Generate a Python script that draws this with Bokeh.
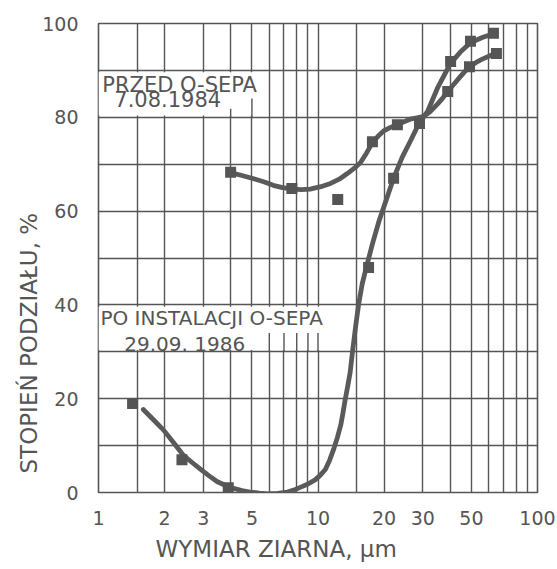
from bokeh.plotting import figure
from bokeh.models import FixedTicker, Range1d, Title
from bokeh.core.properties import value
from bokeh.embed import file_html
from bokeh.resources import INLINE

# axis ticks / grid
x_ticks = [1, 2, 3, 5, 10, 20, 30, 50, 100]
x_grid = [1, 1.5, 2, 3, 4, 5, 6, 7, 8, 9, 10, 15, 20, 30, 40, 50, 60, 70, 80, 90, 100]
y_ticks = [0, 20, 40, 60, 80, 100]
y_grid = [0, 10, 20, 30, 40, 50, 60, 70, 80, 90, 100]

# measured points
przed_x = [4.0, 7.6, 12.3, 17.7, 23.0, 29.0, 39.0, 49.0, 65.0]
przed_y = [68.3, 64.8, 62.5, 74.8, 78.4, 78.7, 85.5, 90.8, 93.6]
po_x = [1.43, 2.4, 3.9, 17.0, 22.1, 40.2, 49.5, 63.0]
po_y = [19.0, 7.0, 1.0, 48.0, 67.0, 91.9, 96.2, 97.9]

# hand-drawn curve traces
przed_curve_x = [4.0, 4.5, 5.1, 5.7, 6.25, 6.9, 7.65, 8.4, 9.2, 10.3, 11.4, 12.5,
                 13.6, 14.6, 15.6, 16.6, 17.7, 18.8, 19.9, 21.3, 22.8, 24.5,
                 26.3, 28.3, 30.3, 32.6, 35.0, 37.0, 39.0, 41.5, 44.0, 46.5,
                 49.0, 52.5, 56.0, 60.0, 64.4]
przed_curve_y = [68.2, 67.6, 66.9, 66.2, 65.5, 65.0, 64.7, 64.6, 64.7, 65.2, 65.9, 66.8,
                 68.0, 69.1, 70.3, 72.3, 74.6, 76.0, 77.1, 77.8, 78.4, 79.0,
                 79.6, 79.9, 80.2, 81.3, 82.8, 84.1, 85.5, 87.0, 88.4, 89.7,
                 90.8, 91.7, 92.4, 93.0, 93.6]
po_curve_x = [1.6, 1.78, 1.98, 2.2, 2.44, 2.67, 2.91, 3.18, 3.48, 3.8, 4.12, 4.5,
              4.9, 5.4, 5.9, 6.55, 7.25, 7.75, 8.3, 9.0, 9.7, 10.25, 10.8, 11.3,
              11.8, 12.25, 12.7, 13.0, 13.3, 13.65, 14.0, 14.2, 14.4, 14.85, 15.3,
              15.9, 16.6, 17.7, 19.0, 20.5, 22.1, 24.2, 26.4, 28.7, 31.6, 35.0,
              37.5, 40.0, 44.5, 49.5, 56.0, 63.0]
po_curve_y = [17.7, 15.5, 13.3, 10.6, 7.9, 6.4, 5.0, 3.6, 2.3, 1.5, 0.9, 0.4,
              0.1, -0.15, -0.3, -0.2, 0.1, 0.5, 1.1, 1.8, 2.7, 3.7, 4.9, 6.9,
              9.3, 11.7, 14.4, 17.0, 19.8, 22.6, 25.5, 28.0, 30.5, 35.5, 40.0,
              44.5, 48.0, 53.0, 58.0, 62.5, 67.0, 71.5, 75.0, 78.5, 81.3, 86.2,
              88.9, 91.4, 93.9, 95.9, 97.0, 97.8]

INK = "#555555"
FONT = "DejaVu Sans"

p = figure(width=557, height=569, x_axis_type="log", output_backend="svg",
           toolbar_location=None, x_range=Range1d(1, 100), y_range=Range1d(0, 100),
           min_border_left=98, min_border_right=20, min_border_top=23, min_border_bottom=77)
p.background_fill_color = "white"
p.border_fill_color = "white"
p.outline_line_color = INK
p.outline_line_width = 1.6

# axes
for ax in (p.xaxis[0], p.yaxis[0]):
    ax.axis_line_color = None
    ax.major_tick_line_color = None
    ax.minor_tick_line_color = None
    ax.major_label_text_font = FONT
    ax.major_label_text_font_size = "19px"
    ax.major_label_text_color = INK
p.xaxis.ticker = FixedTicker(ticks=x_ticks)
p.yaxis.ticker = FixedTicker(ticks=y_ticks)
p.xaxis.major_label_standoff = 12
p.yaxis.major_label_standoff = 14

p.xgrid.ticker = FixedTicker(ticks=x_grid)
p.ygrid.ticker = FixedTicker(ticks=y_grid)
for g in (p.xgrid[0], p.ygrid[0]):
    g.grid_line_color = INK
    g.grid_line_width = 1.4
    g.grid_line_alpha = 1.0

# axis titles
p.add_layout(Title(text="WYMIAR ZIARNA, μm", align="left", offset=57,
                   text_font=FONT, text_font_size="23px", text_font_style="normal",
                   text_color=INK, standoff=12), "below")
p.add_layout(Title(text="STOPIEŃ  PODZIAŁU, %", align="left", offset=19,
                   text_font=FONT, text_font_size="23px", text_font_style="normal",
                   text_color=INK, standoff=-4), "left")

# label boxes
p.quad(left=[1.0, 1.0], right=[5.8, 10.5], bottom=[80.4, 30.4], top=[89.6, 39.6],
       fill_color="white", line_color=None)
p.segment(x0=[4, 5, 6, 7, 8, 9, 10], y0=[80, 80, 30, 30, 30, 30, 30],
          x1=[4, 5, 6, 7, 8, 9, 10], y1=[81.8, 84.0, 34.0, 34.0, 34.0, 34.0, 34.0],
          line_color=INK, line_width=1.4)

p.text(x=[1.04, 1.18], y=[89.4, 85.7], text=["PRZED O-SEPA", "7.08.1984"],
       text_font=value(FONT), text_font_size="21px", text_color=INK,
       text_baseline="top", text_align="left")
p.text(x=[1.02, 1.31], y=[39.7, 34.2], text=["PO INSTALACJI O-SEPA", "29.09. 1986"],
       text_font=value(FONT), text_font_size="20px", text_color=INK,
       text_baseline="top", text_align="left")

# curves
p.line(przed_curve_x, przed_curve_y, line_color="#5a5a5a", line_width=4.8,
       line_join="round", line_cap="round")
p.line(po_curve_x, po_curve_y, line_color="#5a5a5a", line_width=4.8,
       line_join="round", line_cap="round")

# markers
p.scatter(przed_x, przed_y, marker="square", size=11, fill_color="#555555", line_color=None)
p.scatter(po_x, po_y, marker="square", size=11, fill_color="#555555", line_color=None)

open("out.html", "w").write(file_html(p, INLINE))
